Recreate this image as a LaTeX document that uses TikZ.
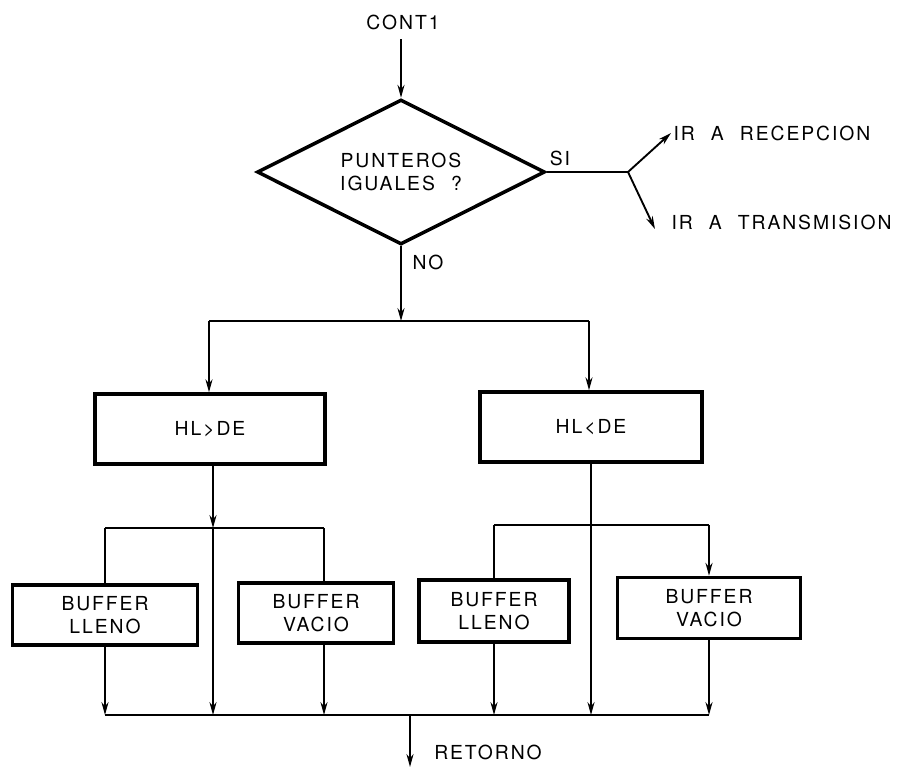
\documentclass[tikz,border=0pt]{standalone}
\usepackage{fontspec}
\setmainfont{TeX Gyre Heros}[LetterSpace=10,WordSpace=2.2]
\usetikzlibrary{arrows.meta,positioning,shapes.geometric}

\begin{document}
\begin{tikzpicture}[
    x=0.03cm, y=-0.03cm,
    font=\fontsize{16.5}{20}\selectfont,
    procbox/.style={rectangle, draw, line width=3pt, align=center, inner sep=0pt},
    decision/.style={diamond, draw, line width=3pt, align=center, inner sep=0pt, aspect=2, minimum width=8.64cm, minimum height=4.35cm},
    arrow/.style={-{Stealth[length=11pt, width=6pt]}, line width=1.6pt},
    link/.style={line width=1.6pt},
    tag/.style={inner sep=2pt}
]
\useasboundingbox (0,0) rectangle (904,776);

\node[tag] (cont) at (403,22) {CONT1};
\node[decision] (dec) at (401,172) {PUNTEROS\\IGUALES ?};
\draw[arrow] ([yshift=-6pt]cont.south -| dec.north) -- (dec.north);

\coordinate (jsi) at (628,172);
\node[tag, anchor=west] (rec) at (671,133) {IR A RECEPCION};
\node[tag, anchor=west] (tra) at (669,222) {IR A TRANSMISION};
\node[tag] (si) at (560,158) {SI};
\draw[link] (dec.east) -- (jsi);
\draw[arrow] (jsi) -- (rec.west);
\draw[arrow] (jsi) -- ([shift={(-12pt,-6pt)}]tra.west);

\coordinate (jno) at (401,321);
\coordinate (jl) at (209,321);
\coordinate (jr) at (589,321);
\node[tag] (no) at (428,262) {NO};
\draw[arrow] (dec.south) -- (jno);
\draw[link] (jl) -- (jr);

\node[procbox, minimum width=6.9cm, minimum height=2.1cm] (hlmay) at (210,429) {HL>DE};
\node[procbox, minimum width=6.66cm, minimum height=2.1cm] (hlmen) at (591,427) {HL<DE};
\draw[arrow] (jl) -- (jl |- hlmay.north);
\draw[arrow] (jr) -- (jr |- hlmen.north);

\node[procbox, minimum width=5.55cm, minimum height=1.8cm] (bl1) at (105,615) {BUFFER\\LLENO};
\node[procbox, minimum width=4.65cm, minimum height=1.8cm] (bv1) at (316,613) {BUFFER\\VACIO};
\node[procbox, minimum width=4.5cm, minimum height=1.86cm] (bl2) at (494,611) {BUFFER\\LLENO};
\node[procbox, minimum width=5.49cm, minimum height=1.83cm] (bv2) at (709,608) {BUFFER\\VACIO};

\coordinate (la) at (105,528);
\coordinate (lm) at (213,528);
\coordinate (lb) at (324,528);
\coordinate (ra) at (494,525);
\coordinate (rb) at (709,525);
\draw[arrow] (hlmay.south -| lm) -- (lm);
\draw[link] (la) -- (lb);
\draw[link] (la) -- (bl1.north);
\draw[link] (lb) -- (lb |- bv1.north);
\draw[link] (ra) -- (rb);
\draw[link] (ra) -- (bl2.north);
\draw[arrow] (rb) -- (bv2.north);

\coordinate (bl) at (105,715);
\coordinate (br) at (709,715);
\coordinate (bout) at (410,715);
\draw[link] (bl) -- (br);
\draw[arrow] (bl1.south) -- (bl);
\draw[arrow] (lm) -- (lm |- bl);
\draw[arrow] (lb |- bv1.south) -- (lb |- bl);
\draw[arrow] (bl2.south) -- (bl2.south |- bl);
\draw[arrow] (hlmen.south) -- (hlmen.south |- bl);
\draw[arrow] (bv2.south) -- (br);

\node[tag] (ret) at (488,752) {RETORNO};
\draw[arrow] (bout) -- (bout |- ret.south) -- ++(0,5);
\end{tikzpicture}
\end{document}
